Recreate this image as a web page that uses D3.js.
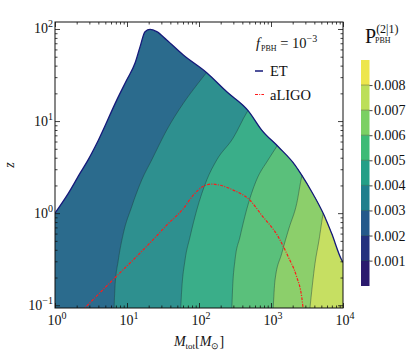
<!DOCTYPE html>
<html><head><meta charset="utf-8">
<script src="https://cdn.jsdelivr.net/npm/d3@7"></script>
<style>body{margin:0;background:#fff}svg{display:block}text{font-family:"Liberation Serif","Times New Roman",serif;fill:#111}</style>
</head><body><svg id="c" width="409" height="355" font-family="Liberation Serif"></svg>
<script>
// ET horizon
const etMass=[1,1.53,2.22,2.87,4.0,7.2,9.9,12.9,15.2,17.8,20.9,25.9,35.6,60.6,128,243,484,743,1262,2154,2670,3677,5325,6966,9590,10000];
const etZ=[1.0,1.64,2.70,3.77,6.2,16.9,27.9,42.4,64.3,93.5,99,93.5,75.9,52.1,33.5,20.8,12.9,7.98,5.26,3.33,2.59,1.71,0.99,0.60,0.31,0.293];
// aLIGO horizon
const ligoMass=[2.37,6.81,14.4,24.5,35.6,60.6,83.3,115,150,196,299,511,743,1262,1738,2275,2670,2812];
const ligoZ=[0.0871,0.199,0.354,0.542,0.741,1.12,1.57,1.96,2.07,2.01,1.78,1.38,0.95,0.552,0.335,0.203,0.123,0.088];
// contour boundaries (levels)
const b003Mass=[6.6,6.81,7.57,8.88,11.6,16.0,22.0,35.6,60.6,93,167];
const b003Z=[0.088,0.158,0.308,0.60,1.17,2.29,3.77,7.98,15.6,24.6,43.8];
const b004Mass=[55.5,57.5,63.9,75,93,128,176,299,464,600];
const b004Z=[0.088,0.146,0.308,0.552,1.08,2.29,3.77,6.58,12.5,16.9];
const b005Mass=[285,292,316,371,457,629,908,1211,1563];
const b005Z=[0.088,0.146,0.308,0.552,1.08,2.29,3.77,5.35,7.41];
const b006Mass=[1070,1136,1409,1778,2275,2670,3062];
const b006Z=[0.088,0.187,0.365,0.687,1.27,2.48,3.33];
const b007Mass=[3450,4084,4642,5325,6190];
const b007Z=[0.088,0.284,0.509,1.0,1.38];
// band colours in plot (0.002-0.003 ... 0.007-0.008)
const plotColors=["#2b6b8d","#2e908f","#3aae89","#5ac07b","#8ccf6b","#c6df62"];
// colorbar
const cbLevels=[0,0.001,0.002,0.003,0.004,0.005,0.006,0.007,0.008,0.009];
const cbColors=["#2b1a6e","#23307e","#24598b","#1f7f8d","#239f87","#3dbb76","#7bd064","#bcdf58","#ede64c"];
const cbTicks=[0.001,0.002,0.003,0.004,0.005,0.006,0.007,0.008];
const xMajor=[1,10,100,1000,10000];
const yMajor=[0.1,1,10,100];
const xTickExp=["0","1","2","3","4"];
const yTickExp=["−1","0","1","2"];

const svg=d3.select("#c");
const L=55,R=343,T=22,B=308;
const xs=d3.scaleLog().domain([1,1e4]).range([L,R]);
const ys=d3.scaleLog().domain([Math.pow(10,-1.03),Math.pow(10,2.076)]).range([B,T]);
const zip=(a,b)=>a.map((v,i)=>[v,b[i]]);
const line=d3.line().x(d=>xs(d[0])).y(d=>ys(d[1])).curve(d3.curveMonotoneX);

const defs=svg.append("defs");
defs.append("clipPath").attr("id","plot").append("rect").attr("x",L).attr("y",T).attr("width",R-L).attr("height",B-T);
const etPts=zip(etMass,etZ);
const etPath=line(etPts)+`L${R},${B+5}L${L},${B+5}Z`;
defs.append("clipPath").attr("id","et").append("path").attr("d",etPath);

const gp=svg.append("g").attr("clip-path","url(#plot)");
const gb=gp.append("g").attr("clip-path","url(#et)");
gb.append("rect").attr("x",L).attr("y",T).attr("width",R-L).attr("height",B-T+5).attr("fill",plotColors[0]);
const bounds=[zip(b003Mass,b003Z),zip(b004Mass,b004Z),zip(b005Mass,b005Z),zip(b006Mass,b006Z),zip(b007Mass,b007Z)];
bounds.forEach((pts,i)=>{
  const last=pts[pts.length-1];
  const d=line(pts)+`L${R+20},${ys(last[1])}L${R+20},${B+10}L${xs(pts[0][0])},${B+10}Z`;
  gb.append("path").attr("d",d).attr("fill",plotColors[i+1]);
});
bounds.forEach(pts=>{
  gb.append("path").attr("d",line(pts)).attr("fill","none").attr("stroke","#1f3a3a").attr("stroke-opacity",0.55).attr("stroke-width",0.8);
});
gp.append("path").attr("d",line(etPts)).attr("fill","none").attr("stroke","#15197a").attr("stroke-width",1.3);
gp.append("path").attr("d",line(zip(ligoMass,ligoZ))).attr("fill","none").attr("stroke","#ff1a1a").attr("stroke-width",1.2).attr("stroke-dasharray","3,1.3,1,1.3");

// axes
const xMinor=[],yMinor=[];
[1,10,100,1000].forEach(d=>{for(let k=2;k<10;k++)xMinor.push(d*k);});
[0.1,1,10].forEach(d=>{for(let k=2;k<10;k++)yMinor.push(d*k);});
const ax=(gen,tr,vals,size)=>{const g=svg.append("g").attr("transform",tr).call(gen.tickValues(vals).tickSize(size).tickFormat(""));g.select(".domain").remove();g.selectAll("line").attr("stroke","#111").attr("stroke-width",0.8);};
ax(d3.axisBottom(xs),`translate(0,${B})`,xMajor,-5);
ax(d3.axisBottom(xs),`translate(0,${B})`,xMinor,-2.5);
ax(d3.axisTop(xs),`translate(0,${T})`,xMajor,-5);
ax(d3.axisTop(xs),`translate(0,${T})`,xMinor,-2.5);
ax(d3.axisLeft(ys),`translate(${L},0)`,yMajor,-5);
ax(d3.axisLeft(ys),`translate(${L},0)`,yMinor,-2.5);
ax(d3.axisRight(ys),`translate(${R},0)`,yMajor,-5);
ax(d3.axisRight(ys),`translate(${R},0)`,yMinor,-2.5);
svg.append("rect").attr("x",L).attr("y",T).attr("width",R-L).attr("height",B-T).attr("fill","none").attr("stroke","#111").attr("stroke-width",1);

xMajor.forEach((v,i)=>{
  const t=svg.append("text").attr("x",xs(v)+2).attr("y",325).attr("text-anchor","middle").attr("font-size",14);
  t.append("tspan").text("10");
  t.append("tspan").attr("dy",-6).attr("font-size",10).text(xTickExp[i]);
});
yMajor.forEach((v,i)=>{
  const t=svg.append("text").attr("x",53).attr("y",ys(v)+4.5).attr("text-anchor","end").attr("font-size",14);
  t.append("tspan").text("10");
  t.append("tspan").attr("dy",-6).attr("font-size",10).text(yTickExp[i]);
});
// axis labels
svg.append("text").attr("transform","translate(14,165) rotate(-90)").attr("text-anchor","middle").attr("font-size",14).attr("font-style","italic").text("z");
const xl=svg.append("text").attr("x",199).attr("y",346).attr("text-anchor","middle").attr("font-size",14);
xl.append("tspan").attr("font-style","italic").text("M");
xl.append("tspan").attr("dy",3).attr("font-size",9).text("tot");
xl.append("tspan").attr("dy",-3).text("[");
xl.append("tspan").attr("font-style","italic").text("M");
xl.append("tspan").attr("dy",3).attr("font-size",9).text("⊙");
xl.append("tspan").attr("dy",-3).text("]");

// legend
const lt=svg.append("text").attr("x",256).attr("y",48).attr("font-size",14.5);
lt.append("tspan").attr("font-style","italic").text("f");
lt.append("tspan").attr("dy",3).attr("dx",1).attr("font-size",8).text("PBH");
lt.append("tspan").attr("dy",-3).text(" = 10");
lt.append("tspan").attr("dy",-6).attr("font-size",10).text("−3");
svg.append("line").attr("x1",255).attr("x2",263).attr("y1",71).attr("y2",71).attr("stroke","#15197a").attr("stroke-width",1.5);
svg.append("text").attr("x",270).attr("y",76).attr("font-size",14.5).text("ET");
svg.append("line").attr("x1",255).attr("x2",264).attr("y1",94.5).attr("y2",94.5).attr("stroke","#ff1a1a").attr("stroke-width",1.2).attr("stroke-dasharray","3,1.2,1,1.2");
svg.append("text").attr("x",270).attr("y",99.5).attr("font-size",14.5).text("aLIGO");

// colorbar
const cs=d3.scaleLinear().domain([0,0.009]).range([285.7,60]);
const cbx=361,cbw=8.5;
cbColors.forEach((c,i)=>{
  svg.append("rect").attr("x",cbx).attr("width",cbw).attr("y",cs(cbLevels[i+1])).attr("height",cs(cbLevels[i])-cs(cbLevels[i+1])+0.3).attr("fill",c);
});
cbTicks.forEach(v=>{
  svg.append("line").attr("x1",cbx).attr("x2",cbx+cbw).attr("y1",cs(v)).attr("y2",cs(v)).attr("stroke","#1f3a3a").attr("stroke-opacity",0.5).attr("stroke-width",0.8);
});
const cg=svg.append("g").attr("transform",`translate(${cbx+cbw},0)`).call(d3.axisRight(cs).tickValues(cbTicks).tickSize(3).tickPadding(1.5).tickFormat(d3.format(".3f")));
cg.select(".domain").remove();
cg.attr("font-family","Liberation Serif");
cg.selectAll("line").attr("stroke","#111").attr("stroke-width",0.8);
cg.selectAll("text").attr("font-size",14).attr("fill","#111");
const ct=svg.append("text").attr("x",365).attr("y",43).attr("font-size",20);
ct.append("tspan").text("P");
ct.append("tspan").attr("dy",-10).attr("font-size",12).text("(2|1)");
svg.append("text").attr("x",375).attr("y",43).attr("font-size",8).text("PBH");
</script></body></html>
